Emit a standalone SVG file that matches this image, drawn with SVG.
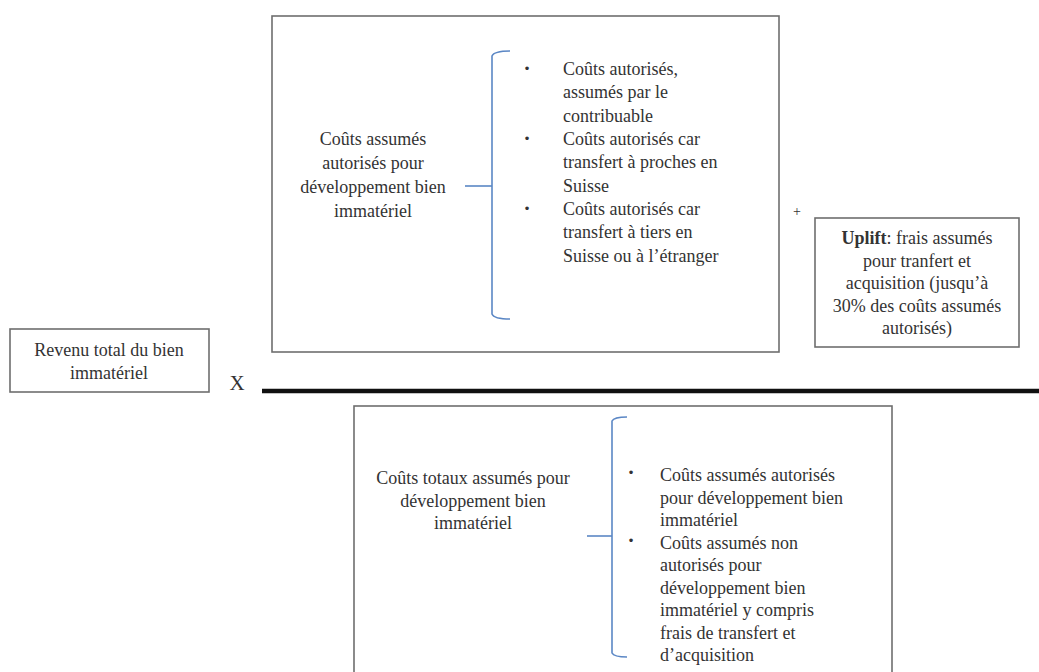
<svg xmlns="http://www.w3.org/2000/svg" width="1039" height="672" viewBox="0 0 1039 672">
<style>
.box{fill:#fff;stroke:#6e6e6e;stroke-width:1.6}
.t{font-family:"Liberation Serif","Times New Roman",serif;font-size:18px;fill:#333}
.c{text-anchor:middle}
.br{fill:none;stroke:#5b87c5;stroke-width:1.6}
.bul{font-family:"Liberation Sans",Arial,sans-serif;font-size:13px;fill:#333;text-anchor:middle}
</style>
<rect width="1039" height="672" fill="#fff"/>
<g id="top-box">
<rect class="box" x="272" y="16" width="507" height="336"/>
<text class="t c" x="373"><tspan x="373" y="145">Coûts assumés</tspan><tspan x="373" y="169">autorisés pour</tspan><tspan x="373" y="193">développement  bien</tspan><tspan x="373" y="217">immatériel</tspan></text>
<text class="bul" x="527" y="73">•</text>
<text class="bul" x="527" y="143">•</text>
<text class="bul" x="527" y="213">•</text>
<text class="t"><tspan x="563" y="75">Coûts autorisés,</tspan><tspan x="563" y="98">assumés par le</tspan><tspan x="563" y="121.5">contribuable</tspan><tspan x="563" y="145">Coûts autorisés car</tspan><tspan x="563" y="168">transfert à proches en</tspan><tspan x="563" y="191.5">Suisse</tspan><tspan x="563" y="215">Coûts autorisés car</tspan><tspan x="563" y="238">transfert à tiers en</tspan><tspan x="563" y="261.5">Suisse ou à l’étranger</tspan></text>
</g>
<g id="plus">
<text x="797" y="216" font-family="Liberation Serif, serif" font-size="14" fill="#333" text-anchor="middle">+</text>
</g>
<g id="uplift-box">
<rect class="box" x="815" y="218" width="204" height="129"/>
<text class="t c"><tspan x="917" y="244"><tspan font-weight="bold">Uplift</tspan>:  frais assumés</tspan><tspan x="917" y="266.5">pour tranfert et</tspan><tspan x="917" y="289">acquisition  (jusqu’à</tspan><tspan x="917" y="311.5">30% des coûts assumés</tspan><tspan x="917" y="334">autorisés)</tspan></text>
</g>
<g id="revenu-box">
<rect class="box" x="10" y="329" width="199" height="63"/>
<text class="t c"><tspan x="109" y="356">Revenu total du bien</tspan><tspan x="109" y="379">immatériel</tspan></text>
</g>
<g id="times">
<text x="237" y="390" font-family="Liberation Serif, serif" font-size="21" fill="#333" text-anchor="middle">X</text>
</g>
<g id="fraction-bar">
<line x1="262" y1="391" x2="1039" y2="391" stroke="#111" stroke-width="4.5"/>
</g>
<g id="bottom-box">
<rect class="box" x="354" y="406" width="538" height="280"/>
<text class="t c"><tspan x="473" y="484">Coûts totaux assumés pour</tspan><tspan x="473" y="506.5">développement  bien</tspan><tspan x="473" y="529">immatériel</tspan></text>
<text class="bul" x="631" y="477">•</text>
<text class="bul" x="631" y="545">•</text>
<text class="t"><tspan x="660" y="481">Coûts assumés autorisés</tspan><tspan x="660" y="503.5">pour développement bien</tspan><tspan x="660" y="526">immatériel</tspan><tspan x="660" y="548.5">Coûts assumés non</tspan><tspan x="660" y="571">autorisés pour</tspan><tspan x="660" y="593.5">développement  bien</tspan><tspan x="660" y="616">immatériel  y compris</tspan><tspan x="660" y="638.5">frais de transfert et</tspan><tspan x="660" y="661">d’acquisition</tspan></text>
</g>
<g id="connectors">
<path class="br" d="M510,51 Q494,51 492,56 L492,314 Q494,319 510,319"/>
<line class="br" x1="465" y1="186" x2="492" y2="186"/>
<path class="br" d="M627,417 Q614,417 612,421 L612,653 Q614,657 627,657"/>
<line class="br" x1="587" y1="536" x2="612" y2="536"/>
</g>
</svg>
